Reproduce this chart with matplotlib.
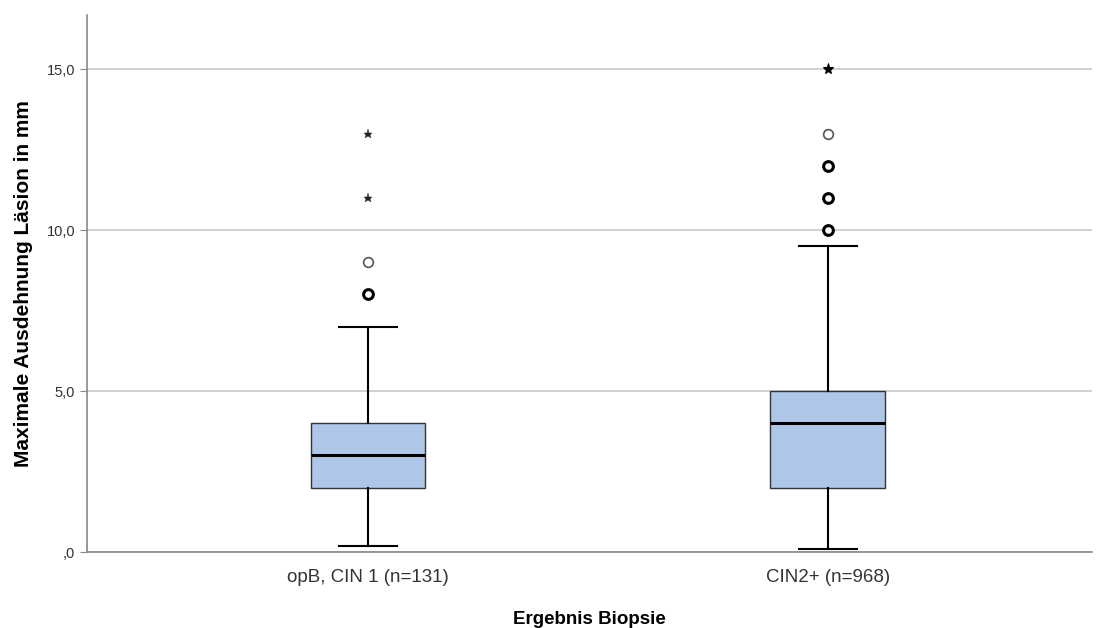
import matplotlib
matplotlib.use('Agg')
import matplotlib.pyplot as plt
import matplotlib.ticker as mticker

plt.rcParams['font.family'] = ['Arial', 'Liberation Sans', 'DejaVu Sans']

groups = ['opB, CIN 1 (n=131)', 'CIN2+ (n=968)']
q1 = [2.0, 2.0]
median = [3.0, 4.0]
q3 = [4.0, 5.0]
whislo = [0.2, 0.1]
whishi = [7.0, 9.5]
# Ausreißer (Kreise) und Extremwerte (Sterne); "viele" = mehrfach belegte Werte
outliers = [[8.0, 9.0], [10.0, 11.0, 12.0, 13.0]]
outliers_many = [[True, False], [True, True, True, False]]
extremes = [[11.0, 13.0], [15.0]]
extremes_many = [[False, False], [True]]

fig = plt.figure(figsize=(11.04, 6.28), dpi=100)
ax = fig.add_axes([0.0788, 0.121, 0.9102, 0.855])

stats = []
for i, name in enumerate(groups):
    stats.append(dict(label=name, q1=q1[i], med=median[i], q3=q3[i],
                      whislo=whislo[i], whishi=whishi[i], fliers=[]))

ax.bxp(stats, positions=[0, 1], widths=0.25, patch_artist=True,
       showfliers=False, capwidths=0.125,
       boxprops=dict(facecolor='#aec7e8', edgecolor='#333333', linewidth=1.0),
       medianprops=dict(color='black', linewidth=2.2),
       whiskerprops=dict(color='black', linewidth=1.5),
       capprops=dict(color='black', linewidth=1.5), zorder=3)

for i in range(len(groups)):
    for v, many in zip(outliers[i], outliers_many[i]):
        ax.plot(i, v, 'o', markersize=7, markerfacecolor='white',
                markeredgecolor='black' if many else '#555555',
                markeredgewidth=2.2 if many else 1.2, zorder=4)
    for v, many in zip(extremes[i], extremes_many[i]):
        ax.plot(i, v, '*', markersize=8 if many else 6.5,
                color='black' if many else '#222222',
                markeredgewidth=0.8 if many else 0.3, zorder=4)

ax.set_xlim(-0.611, 1.574)
ax.set_ylim(0, 16.68)
ax.set_yticks([0, 5, 10, 15])
ax.yaxis.set_major_formatter(mticker.FuncFormatter(
    lambda v, _: ',0' if v == 0 else f'{v:.1f}'.replace('.', ',')))
ax.yaxis.grid(True, color='#c8c8c8', linewidth=1.2)
ax.set_axisbelow(True)

for side in ['top', 'right']:
    ax.spines[side].set_visible(False)
for side in ['left', 'bottom']:
    ax.spines[side].set_color('#888888')
    ax.spines[side].set_linewidth(1.2)

ax.tick_params(axis='y', length=5, color='#888888', labelsize=10.5, labelcolor='#333333')
ax.tick_params(axis='x', length=0, labelsize=13.5, labelcolor='#333333', pad=12)

ax.set_ylabel('Maximale Ausdehnung Läsion in mm', fontsize=15,
              fontweight='bold', labelpad=10)
ax.set_xlabel('Ergebnis Biopsie', fontsize=13.5, fontweight='bold', labelpad=18)

fig.savefig('out.png', dpi=100)
